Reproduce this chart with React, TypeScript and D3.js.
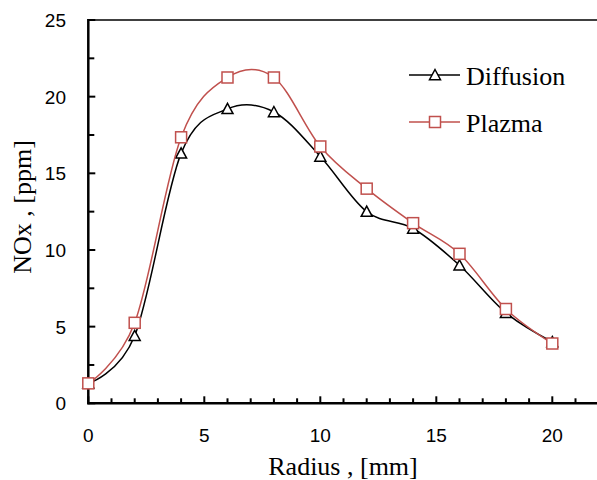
import React, { useEffect, useRef } from "react";
import * as d3 from "d3";

const radius = [0, 2, 4, 6, 8, 10, 12, 14, 16, 18, 20];
const diffusion = [1.3, 4.4, 16.3, 19.2, 19.0, 16.1, 12.5, 11.4, 9.0, 5.9, 4.0];
const plazma = [1.3, 5.25, 17.35, 21.25, 21.25, 16.75, 14.0, 11.75, 9.75, 6.15, 3.9];
const xMajorTicks = [0, 5, 10, 15, 20];
const yMajorTicks = [0, 5, 10, 15, 20, 25];
const seriesNames = ["Diffusion", "Plazma"];

const W = 597;
const H = 480;
const SERIF = "Liberation Serif";
const SANS = "Liberation Sans";

export default function App() {
  const ref = useRef<SVGSVGElement>(null);

  useEffect(() => {
    const svg = d3.select(ref.current);
    svg.selectAll("*").remove();

    const x = d3.scaleLinear().domain([0, 22]).range([88.3, 598.7]);
    const y = d3.scaleLinear().domain([0, 25]).range([403.3, 20]);

    const g = svg.append("g");

    g.append("line")
      .attr("x1", x(0)).attr("x2", W)
      .attr("y1", y(25)).attr("y2", y(25))
      .attr("stroke", "#000").attr("stroke-width", 1.5);

    const yMinor = d3.range(0, 25.01, 2.5);
    g.selectAll(".ytick").data(yMinor).enter().append("line")
      .attr("x1", x(0)).attr("x2", (d) => x(0) + (d % 5 === 0 ? 7 : 6))
      .attr("y1", (d) => y(d)).attr("y2", (d) => y(d))
      .attr("stroke", "#000").attr("stroke-width", 2);

    const xMinor = d3.range(0, 22.01, 1);
    g.selectAll(".xtick").data(xMinor).enter().append("line")
      .attr("x1", (d) => x(d)).attr("x2", (d) => x(d))
      .attr("y1", y(0)).attr("y2", (d) => y(0) - (d % 5 === 0 ? 7 : 5))
      .attr("stroke", "#000").attr("stroke-width", 2);

    g.append("line")
      .attr("x1", x(0)).attr("x2", x(0))
      .attr("y1", y(25) - 1).attr("y2", y(0) + 1)
      .attr("stroke", "#000").attr("stroke-width", 2.5);
    g.append("line")
      .attr("x1", x(0) - 1).attr("x2", W)
      .attr("y1", y(0)).attr("y2", y(0))
      .attr("stroke", "#000").attr("stroke-width", 2.5);

    g.selectAll(".ylab").data(yMajorTicks).enter().append("text")
      .attr("x", 66).attr("y", (d) => y(d) + 7)
      .attr("text-anchor", "end")
      .attr("font-family", SANS)
      .attr("font-size", 19)
      .attr("fill", "#000")
      .text((d) => String(d));
    g.selectAll(".xlab").data(xMajorTicks).enter().append("text")
      .attr("x", (d) => x(d)).attr("y", 441.5)
      .attr("text-anchor", "middle")
      .attr("font-family", SANS)
      .attr("font-size", 19)
      .attr("fill", "#000")
      .text((d) => String(d));

    g.append("text")
      .attr("x", 343).attr("y", 475)
      .attr("text-anchor", "middle")
      .attr("font-family", SERIF)
      .attr("font-size", 26)
      .text("Radius , [mm]");
    g.append("text")
      .attr("transform", "translate(31,207) rotate(-90)")
      .attr("text-anchor", "middle")
      .attr("font-family", SERIF)
      .attr("font-size", 26)
      .text("NOx , [ppm]");

    const line = d3.line<[number, number]>()
      .x((d) => x(d[0]))
      .y((d) => y(d[1]))
      .curve(d3.curveCardinal.tension(0));

    const series = [
      { name: seriesNames[0], values: diffusion, color: "#000000", marker: "tri" },
      { name: seriesNames[1], values: plazma, color: "#C0504D", marker: "sq" },
    ];

    const drawMarker = (sel: any, type: string, color: string, cx: number, cy: number) => {
      const s = 5.5;
      if (type === "tri") {
        sel.append("path")
          .attr("d", `M${cx},${cy - s} L${cx + s},${cy + s * 0.85} L${cx - s},${cy + s * 0.85} Z`)
          .attr("fill", "#fff").attr("stroke", color).attr("stroke-width", 1.5);
      } else {
        sel.append("rect")
          .attr("x", cx - s).attr("y", cy - s)
          .attr("width", 2 * s).attr("height", 2 * s)
          .attr("fill", "#fff").attr("stroke", color).attr("stroke-width", 1.5);
      }
    };

    series.forEach((s) => {
      const pts: [number, number][] = radius.map((r, i) => [r, s.values[i]]);
      g.append("path")
        .attr("d", line(pts) as string)
        .attr("fill", "none")
        .attr("stroke", s.color)
        .attr("stroke-width", 1.5);
      pts.forEach((p) => drawMarker(g, s.marker, s.color, x(p[0]), y(p[1])));
    });

    series.forEach((s, i) => {
      const ly = 75 + i * 47;
      g.append("line")
        .attr("x1", 409).attr("x2", 460)
        .attr("y1", ly).attr("y2", ly)
        .attr("stroke", s.color).attr("stroke-width", 1.5);
      drawMarker(g, s.marker, s.color, 435, ly);
      g.append("text")
        .attr("x", 466).attr("y", ly + 9.5)
        .attr("font-family", SERIF)
        .attr("font-size", 26)
        .attr("fill", "#000")
        .text(s.name);
    });
  }, []);

  return (
    <svg
      ref={ref}
      width={W}
      height={H}
      style={{ position: "absolute", left: 0, top: 0, background: "#fff" }}
    />
  );
}
